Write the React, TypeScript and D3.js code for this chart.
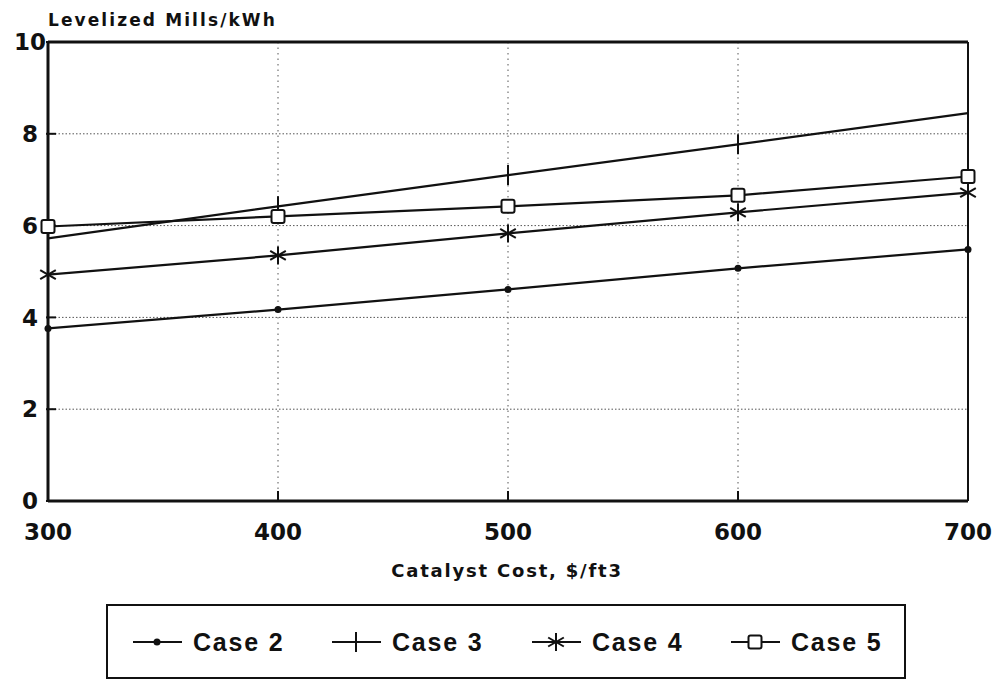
import React from 'react';
import * as d3 from 'd3';

const costs = [300, 400, 500, 600, 700];
const case2 = [3.76, 4.17, 4.61, 5.07, 5.48];
const case3 = [5.72, 6.42, 7.1, 7.77, 8.45];
const case4 = [4.93, 5.35, 5.83, 6.29, 6.72];
const case5 = [5.98, 6.2, 6.42, 6.66, 7.07];
const seriesNames = ['Case 2', 'Case 3', 'Case 4', 'Case 5'];
const xTicks = [300, 400, 500, 600, 700];
const yTicks = [0, 2, 4, 6, 8, 10];

const width = 996,
  height = 679;
const left = 48,
  right = 968,
  top = 42,
  bottom = 501;

const wideFont = '"DejaVu Sans", Verdana, sans-serif';
const legendFont = '"Liberation Sans", Arial, sans-serif';

const Marker = ({ kind, x, y }: { kind: number; x: number; y: number }) => {
  if (kind === 0) return <circle cx={x} cy={y} r={3.5} fill="#111" />;
  if (kind === 1)
    return <line x1={x} x2={x} y1={y - 10} y2={y + 10} stroke="#111" strokeWidth={2} />;
  if (kind === 2) {
    const s = 9;
    return (
      <g stroke="#111" strokeWidth={2}>
        <line x1={x} x2={x} y1={y - s} y2={y + s} />
        <line x1={x - s * 0.87} x2={x + s * 0.87} y1={y - s * 0.5} y2={y + s * 0.5} />
        <line x1={x - s * 0.87} x2={x + s * 0.87} y1={y + s * 0.5} y2={y - s * 0.5} />
      </g>
    );
  }
  return (
    <rect x={x - 6.5} y={y - 6.5} width={13} height={13} rx={2} fill="#fff" stroke="#111" strokeWidth={2} />
  );
};

export default function App() {
  const x = d3.scaleLinear().domain([300, 700]).range([left, right]);
  const y = d3.scaleLinear().domain([0, 10]).range([bottom, top]);
  const all = [case2, case3, case4, case5];
  const line = d3
    .line<number>()
    .x((d, i) => x(costs[i]))
    .y(d => y(d));

  const legendX = [133, 332, 532, 731];

  return (
    <svg
      width={width}
      height={height}
      style={{ position: 'absolute', left: 0, top: 0, background: '#fff' }}
      fontFamily={wideFont}
      fontWeight="bold"
    >
      {/* grid */}
      {yTicks.slice(1, -1).map(t => (
        <line key={'gy' + t} x1={left} x2={right} y1={y(t)} y2={y(t)} stroke="#555" strokeWidth={1} strokeDasharray="1.5 2" />
      ))}
      {xTicks.slice(1, -1).map(t => (
        <line key={'gx' + t} x1={x(t)} x2={x(t)} y1={top} y2={bottom} stroke="#555" strokeWidth={1} strokeDasharray="1.5 4" />
      ))}
      {/* frame */}
      <line x1={left} x2={right} y1={top} y2={top} stroke="#111" strokeWidth={3} />
      <line x1={left} x2={right} y1={bottom} y2={bottom} stroke="#111" strokeWidth={3} />
      <line x1={left} x2={left} y1={top} y2={bottom} stroke="#111" strokeWidth={3} />
      <line x1={right} x2={right} y1={top} y2={bottom} stroke="#111" strokeWidth={2} />
      {yTicks.map(t => (
        <line key={'ty' + t} x1={left - 2} x2={left + 8} y1={y(t)} y2={y(t)} stroke="#111" strokeWidth={2} />
      ))}
      {xTicks.map(t => (
        <line key={'tx' + t} x1={x(t)} x2={x(t)} y1={bottom - 10} y2={bottom} stroke="#111" strokeWidth={2} />
      ))}
      {/* tick labels */}
      {yTicks.map(t => (
        <text key={'ly' + t} x={30} y={y(t)} dy="0.36em" textAnchor="middle" fontSize={23} fill="#111">
          {t}
        </text>
      ))}
      {xTicks.map(t => (
        <text key={'lx' + t} x={x(t)} y={532} dy="0.36em" textAnchor="middle" fontSize={23} fill="#111">
          {t}
        </text>
      ))}
      <text x={48} y={26} fontSize={17} letterSpacing={2.1} fill="#111">
        Levelized Mills/kWh
      </text>
      <text x={507} y={577} textAnchor="middle" fontSize={18} letterSpacing={1.8} fill="#111">
        Catalyst Cost, $/ft3
      </text>
      {/* series */}
      {all.map((vals, si) => (
        <g key={'s' + si}>
          <path d={line(vals) || ''} fill="none" stroke="#111" strokeWidth={2.2} />
          {vals.map((v, i) => (
            <Marker key={i} kind={si} x={x(costs[i])} y={y(v)} />
          ))}
        </g>
      ))}
      {/* legend */}
      <rect x={107} y={605} width={798} height={73} fill="none" stroke="#111" strokeWidth={2} />
      {seriesNames.map((name, i) => (
        <g key={name}>
          <line x1={legendX[i]} x2={legendX[i] + 49} y1={642} y2={642} stroke="#111" strokeWidth={2} />
          <Marker kind={i} x={legendX[i] + 24} y={642} />
          <text
            x={legendX[i] + 60}
            y={642}
            dy="0.36em"
            fontFamily={legendFont}
            fontSize={25}
            letterSpacing={1.8}
            fill="#111"
          >
            {name}
          </text>
        </g>
      ))}
    </svg>
  );
}
